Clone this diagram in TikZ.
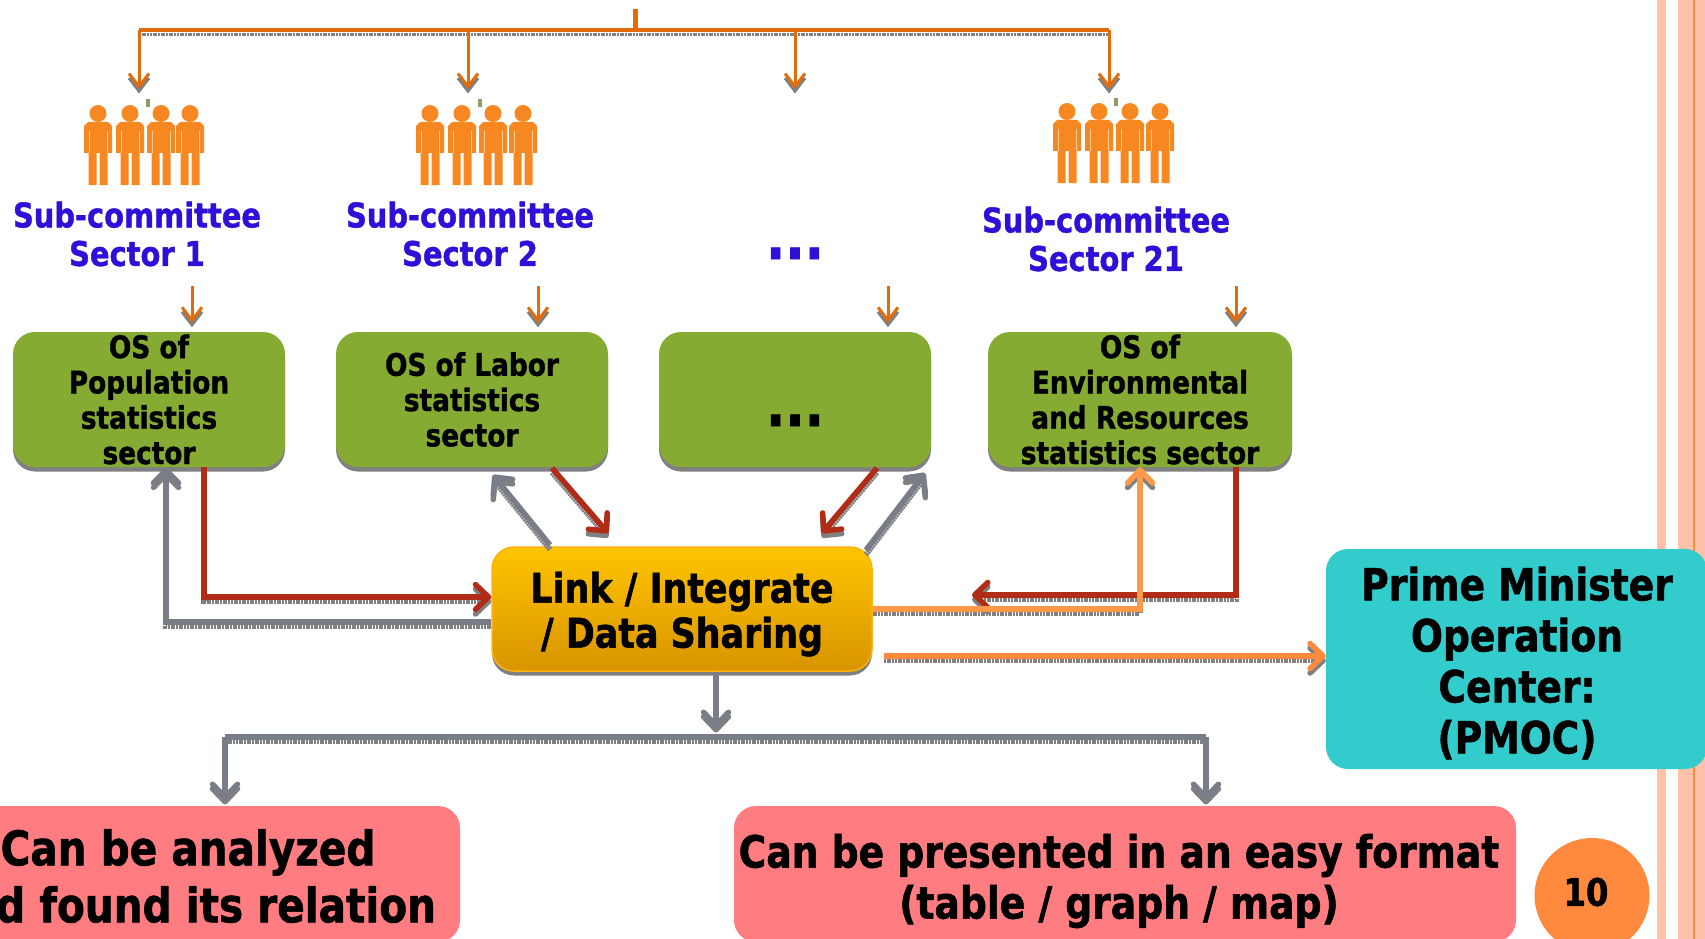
\documentclass[tikz,border=0pt]{standalone}
\usepackage{fontspec}
\setmainfont[FakeStretch=0.85,BoldFeatures={FakeBold=1.2}]{DejaVu Sans}
\usetikzlibrary{arrows.meta,shadows}
\definecolor{BusClr}{rgb}{0.89,0.42,0.04}
\definecolor{PeopleClr}{rgb}{0.97,0.53,0.13}
\definecolor{PeopleLtClr}{rgb}{0.99,0.80,0.60}
\definecolor{MarkClr}{rgb}{0.55,0.62,0.40}
\definecolor{SubClr}{rgb}{0.19,0.06,0.85}
\definecolor{GreenClr}{rgb}{0.52,0.67,0.20}
\definecolor{HubTopClr}{rgb}{1,0.77,0}
\definecolor{HubBotClr}{rgb}{0.85,0.58,0}
\definecolor{HubEdgeClr}{rgb}{1,0.70,0.05}
\definecolor{RedClr}{rgb}{0.70,0.17,0.09}
\definecolor{GreyClr}{rgb}{0.47,0.49,0.53}
\definecolor{LtOrangeClr}{rgb}{1,0.60,0.29}
\definecolor{OrangeClr}{rgb}{1,0.54,0.24}
\definecolor{TealClr}{rgb}{0.20,0.80,0.80}
\definecolor{PinkClr}{rgb}{1,0.49,0.50}
\definecolor{StripeClr}{rgb}{1,0.76,0.66}
\definecolor{ShadowClr}{rgb}{0.50,0.50,0.50}
\tikzset{
  person/.pic={
    \fill[PeopleClr] (0,8.5) circle (8.5);
    \fill[PeopleClr] (-14,48) -- (-14,21) -- (-10,17) -- (10,17) -- (14,21) -- (14,48) -- (9.5,48) -- (9.5,80)
      -- (1.5,80) -- (1.5,48) -- (-1.5,48) -- (-1.5,80) -- (-9.5,80) -- (-9.5,48) -- cycle;
    \draw[PeopleLtClr,line width=1pt] (-9,26) -- (-9,48) (9,26) -- (9,48);
  },
  liner/.style={preaction={draw=ShadowClr,line width=#1,dash pattern=on 2pt off 0.7pt,transform canvas={yshift=-4.5pt}}},
  busline/.style={liner=3.5pt,draw=BusClr,line width=3.5pt},
  tiny/.style={liner=3pt,draw=BusClr,line width=3pt,-{Straight Barb[length=13pt,width=20pt,line width=3pt]}},
  fat/.style={liner=5.5pt,line width=5.5pt,line cap=butt,-{Straight Barb[length=13pt,width=25pt,line width=5.5pt,round]}},
  plainfat/.style={liner=5.5pt,line width=5.5pt},
  boxshadow/.style={drop shadow={shadow xshift=0pt,shadow yshift=-4.5pt,fill=ShadowClr,opacity=1}},
  subtext/.style={text=SubClr,align=center,font=\fontsize{34}{38.5}\selectfont\bfseries},
  ostext/.style={align=center,font=\fontsize{31}{35.3}\selectfont\bfseries},
  dotstext/.style={anchor=base,font=\fontsize{60}{60}\selectfont\bfseries},
  osbox/.style={boxshadow,fill=GreenClr,rounded corners=22pt,inner sep=0pt,minimum height=135pt,ostext},
  hubbox/.style={boxshadow,top color=HubTopClr,bottom color=HubBotClr,draw=HubEdgeClr,line width=1.5pt,rounded corners=22pt,
    inner sep=0pt,minimum width=380pt,minimum height=124pt},
  bigbox/.style={rounded corners=22pt,inner sep=0pt},
  bigtext/.style={align=center,font=\fontsize{44.3}{51}\selectfont\bfseries},
}
\begin{document}
\begin{tikzpicture}[x=1pt,y=-1pt]
\useasboundingbox (0,0) rectangle (1705,939);
\clip (0,0) rectangle (1705,939);

% page stripes
\fill[StripeClr] (1657,0) rectangle (1666,939);
\fill[StripeClr] (1678,0) rectangle (1705,939);
\fill[OrangeClr] (1693,0) rectangle (1695,939);

% boxes
\node[osbox,minimum width=272pt] (os1) at (149,399.5) {OS of\\Population\\statistics\\sector};
\node[osbox,minimum width=272pt] (os2) at (472,399.5) {OS of Labor\\statistics\\sector};
\node[osbox,minimum width=272pt] (os3) at (795,399.5) {};
\node[dotstext] (os3dots) at (795,426) {...};
\node[osbox,minimum width=304pt] (os4) at (1140,399.5) {OS of\\Environmental\\and Resources\\statistics sector};
\node[hubbox] (hub) at (682,609) {};
\node[align=center,font=\fontsize{41}{45}\selectfont\bfseries] (hubtext) at (682,614) {Link / Integrate\\/ Data Sharing};
\node[bigbox,fill=TealClr,minimum width=381pt,minimum height=220pt] (pmoc) at (1516.5,659) {};
\node[bigtext] (pmoctext) at (1517,663) {Prime Minister\\Operation\\Center:\\(PMOC)};
\node[bigbox,fill=PinkClr,minimum width=520pt,minimum height=136pt] (analyze) at (200,874) {};
\node[bigtext,font=\fontsize{47.7}{57}\selectfont\bfseries] (analyzetext) at (188,876) {Can be analyzed\\and found its relation};
\node[bigbox,fill=PinkClr,minimum width=782pt,minimum height=136pt] (present) at (1125,874) {};
\node[bigtext] (presenttext) at (1119,881) {Can be presented in an easy format\\(table / graph / map)};
\node[circle,fill=OrangeClr,inner sep=0pt,minimum size=115pt] (page) at (1592,895.5) {};
\node[font=\fontsize{38}{40}\selectfont\bfseries] (pagenum) at (1586,892) {10};

% people and sector names
\foreach \x in {98,130,161,190,430,462,493,523} \pic at (\x,105) {person};
\foreach \x in {1067,1099,1130,1160} \pic at (\x,103) {person};
\foreach \x/\y in {148/103,480/103,1116/102} \fill[MarkClr] (\x-2,\y-4) rectangle (\x+2,\y+4);
\node[subtext] (sub1) at (137,234) {Sub-committee\\Sector 1};
\node[subtext] (sub2) at (470,234) {Sub-committee\\Sector 2};
\node[dotstext,text=SubClr] (sub3) at (795,259) {...};
\node[subtext] (sub4) at (1106,239) {Sub-committee\\Sector 21};

% top bus
\coordinate (stub) at (635,9);
\coordinate (busL) at (139,30);
\coordinate (busR) at (1109,30);
\draw[busline] (busL) -- (busR);
\draw[BusClr,line width=5pt] (stub) -- (stub |- busL);
\foreach \i/\x in {1/139,2/468,3/795,4/1109}{
  \coordinate (drop\i) at (\x,30);
  \coordinate (tip\i) at (\x,89);
  \draw[tiny] (drop\i) -- (tip\i);
}
\foreach \i/\x in {1/192,2/538,3/888,4/1236}{
  \coordinate (short\i) at (\x,286);
  \draw[tiny,shorten >=9pt] (short\i) -- (os\i.north -| short\i);
}

% to and from the hub
\coordinate (redA) at (204,597);
\coordinate (greyA) at (166,622);
\coordinate (redB) at (1236,595);
\coordinate (redBtip) at (972,595);
\coordinate (ltA) at (1140,609);
\coordinate (orA) at (884,656);
\coordinate (downA) at (716,728);
\coordinate (diagA) at (550,545);
\coordinate (diagB) at (493,475);
\coordinate (diagC) at (552,468);
\coordinate (diagD) at (608,533);
\coordinate (diagE) at (877,468);
\coordinate (diagF) at (822,533);
\coordinate (diagG) at (866,550);
\coordinate (diagH) at (925,473);
\draw[fat,draw=GreyClr] (hub.west |- greyA) -| (os1.south -| greyA);
\draw[fat,draw=RedClr] (os1.south -| redA) |- (hub.west |- redA);
\draw[fat,draw=GreyClr] (diagA) -- (diagB);
\draw[fat,draw=RedClr] (diagC) -- (diagD);
\draw[fat,draw=RedClr] (diagE) -- (diagF);
\draw[fat,draw=GreyClr] (diagG) -- (diagH);
\draw[fat,draw=RedClr] (os4.south -| redB) |- (redBtip);
\draw[fat,draw=LtOrangeClr] (hub.east |- ltA) -| (os4.south);
\draw[fat,draw=OrangeClr] (orA) -- (pmoc.west |- orA);

% hub down to the two results
\coordinate (lowL) at (225,737);
\coordinate (lowR) at (1206,737);
\coordinate (lowL2) at (225,800);
\coordinate (lowR2) at (1206,800);
\draw[fat,draw=GreyClr] (hub.south -| downA) -- (downA);
\draw[plainfat,draw=GreyClr] (lowL) -- (lowR);
\draw[fat,draw=GreyClr] (lowL) -- (lowL2);
\draw[fat,draw=GreyClr] (lowR) -- (lowR2);
\end{tikzpicture}
\end{document}
